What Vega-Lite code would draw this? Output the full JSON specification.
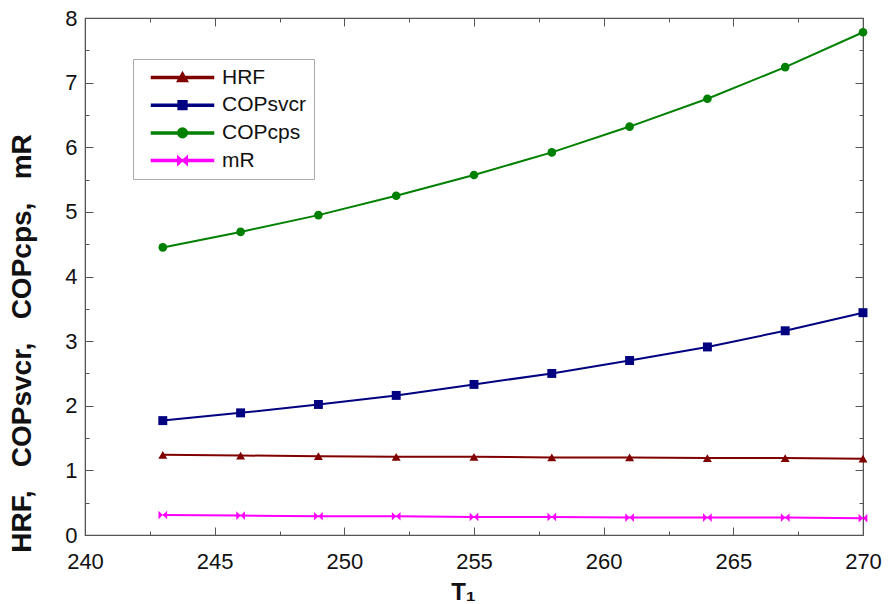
{
  "$schema": "https://vega.github.io/schema/vega-lite/v6.json",
  "width": 778,
  "height": 517,
  "autosize": {"type": "none"},
  "padding": {"left": 85, "top": 18, "right": 26, "bottom": 69},
  "background": "white",
  "config": {
    "view": {"stroke": "#555", "strokeWidth": 1.2},
    "font": "Liberation Sans",
    "axis": {"grid": false, "labelFont": "Liberation Sans", "titleFont": "Liberation Sans", "domainColor": "#555", "tickColor": "#555", "labelColor": "#111", "titleColor": "#111"}
  },
  "data": {
    "values": [
      {"T1": 243, "series": "HRF", "value": 1.24},
      {"T1": 246, "series": "HRF", "value": 1.23},
      {"T1": 249, "series": "HRF", "value": 1.22},
      {"T1": 252, "series": "HRF", "value": 1.21},
      {"T1": 255, "series": "HRF", "value": 1.21},
      {"T1": 258, "series": "HRF", "value": 1.20},
      {"T1": 261, "series": "HRF", "value": 1.20},
      {"T1": 264, "series": "HRF", "value": 1.19},
      {"T1": 267, "series": "HRF", "value": 1.19},
      {"T1": 270, "series": "HRF", "value": 1.18},
      {"T1": 243, "series": "COPsvcr", "value": 1.77},
      {"T1": 246, "series": "COPsvcr", "value": 1.89},
      {"T1": 249, "series": "COPsvcr", "value": 2.02},
      {"T1": 252, "series": "COPsvcr", "value": 2.16},
      {"T1": 255, "series": "COPsvcr", "value": 2.33},
      {"T1": 258, "series": "COPsvcr", "value": 2.50},
      {"T1": 261, "series": "COPsvcr", "value": 2.70},
      {"T1": 264, "series": "COPsvcr", "value": 2.91},
      {"T1": 267, "series": "COPsvcr", "value": 3.16},
      {"T1": 270, "series": "COPsvcr", "value": 3.44},
      {"T1": 243, "series": "COPcps", "value": 4.45},
      {"T1": 246, "series": "COPcps", "value": 4.69},
      {"T1": 249, "series": "COPcps", "value": 4.95},
      {"T1": 252, "series": "COPcps", "value": 5.25},
      {"T1": 255, "series": "COPcps", "value": 5.57},
      {"T1": 258, "series": "COPcps", "value": 5.92},
      {"T1": 261, "series": "COPcps", "value": 6.32},
      {"T1": 264, "series": "COPcps", "value": 6.75},
      {"T1": 267, "series": "COPcps", "value": 7.24},
      {"T1": 270, "series": "COPcps", "value": 7.78},
      {"T1": 243, "series": "mR", "value": 0.31},
      {"T1": 246, "series": "mR", "value": 0.30},
      {"T1": 249, "series": "mR", "value": 0.29},
      {"T1": 252, "series": "mR", "value": 0.29},
      {"T1": 255, "series": "mR", "value": 0.28},
      {"T1": 258, "series": "mR", "value": 0.28},
      {"T1": 261, "series": "mR", "value": 0.27},
      {"T1": 264, "series": "mR", "value": 0.27},
      {"T1": 267, "series": "mR", "value": 0.27},
      {"T1": 270, "series": "mR", "value": 0.26}
    ]
  },
  "layer": [
    {
      "mark": {"type": "point", "filled": true, "opacity": 0},
      "encoding": {
        "x": {
          "field": "T1", "type": "quantitative",
          "scale": {"domain": [240, 270], "nice": false, "zero": false},
          "axis": {
            "orient": "bottom",
            "values": [240, 242.5, 245, 247.5, 250, 252.5, 255, 257.5, 260, 262.5, 265, 267.5, 270],
            "labelExpr": "datum.value % 5 === 0 ? format(datum.value, 'd') : ''",
            "tickSize": {"condition": {"test": "datum.value % 5 === 0", "value": -8}, "value": -4},
            "labelPadding": 24,
            "labelFontSize": 22,
            "labelFlush": false,
            "labelOverlap": false,
            "title": "T₁",
            "titleFontSize": 24,
            "titleFontWeight": "bold",
            "titleX": 378,
            "titleY": 45,
            "titleBaseline": "top",
            "titleAlign": "center"
          }
        },
        "y": {
          "field": "value", "type": "quantitative",
          "scale": {"domain": [0, 8], "nice": false},
          "axis": {
            "orient": "left",
            "values": [0, 0.5, 1, 1.5, 2, 2.5, 3, 3.5, 4, 4.5, 5, 5.5, 6, 6.5, 7, 7.5, 8],
            "labelExpr": "datum.value % 1 === 0 ? format(datum.value, 'd') : ''",
            "tickSize": {"condition": {"test": "datum.value % 1 === 0", "value": -8}, "value": -4},
            "labelPadding": 16,
            "labelFontSize": 22,
            "labelFlush": false,
            "labelOverlap": false,
            "title": "HRF,\u00a0\u00a0\u00a0COPsvcr,\u00a0\u00a0\u00a0COPcps,\u00a0\u00a0\u00a0mR",
            "titleFontSize": 28,
            "titleFontWeight": "bold",
            "titleAngle": -90,
            "titleX": -63,
            "titleY": 325,
            "titleBaseline": "middle",
            "titleAlign": "center"
          }
        },
        "color": {
          "field": "series", "type": "nominal",
          "scale": {"domain": ["HRF", "COPsvcr", "COPcps", "mR"], "range": ["#800000", "#000080", "#008000", "#ff00ff"]},
          "legend": {
            "title": null,
            "orient": "none",
            "legendX": 48,
            "legendY": 41,
            "padding": 8,
            "strokeColor": "#aaa",
            "fillColor": "white",
            "symbolSize": 64,
            "symbolOpacity": 1,
            "symbolOffset": 31,
            "labelOffset": 29,
            "rowPadding": 5.7,
            "labelFont": "Liberation Sans",
            "labelFontSize": 21,
            "labelColor": "#111"
          }
        },
        "shape": {
          "field": "series", "type": "nominal",
          "scale": {
            "domain": ["HRF", "COPsvcr", "COPcps", "mR"],
            "range": [
              "M-7.75,-0.25H7.75V0.25H-7.75ZM0,-1.3L1.3,1L-1.3,1Z",
              "M-7.75,-0.25H7.75V0.25H-7.75ZM-1.1,-1.1H1.1V1.1H-1.1Z",
              "M-7.75,-0.25H7.75V0.25H-7.75ZM-1.2,0A1.2,1.2,0,1,1,1.2,0A1.2,1.2,0,1,1,-1.2,0Z",
              "M-7.75,-0.25H7.75V0.25H-7.75ZM-1.2,-1.1L0,0L-1.2,1.1ZM1.2,1.1L0,0L1.2,-1.1Z"
            ]
          },
          "legend": null
        }
      }
    },
    {
      "mark": {"type": "line", "strokeWidth": 2},
      "encoding": {
        "x": {"field": "T1", "type": "quantitative", "axis": null},
        "y": {"field": "value", "type": "quantitative", "axis": null},
        "color": {"field": "series", "type": "nominal", "legend": null}
      }
    },
    {
      "transform": [{"filter": "datum.series === 'HRF'"}],
      "mark": {"type": "point", "filled": true, "opacity": 1, "shape": "triangle-up", "size": 80},
      "encoding": {
        "x": {
          "field": "T1", "type": "quantitative",
          "axis": {
            "orient": "top",
            "values": [240, 242.5, 245, 247.5, 250, 252.5, 255, 257.5, 260, 262.5, 265, 267.5, 270],
            "labels": false,
            "tickSize": {"condition": {"test": "datum.value % 5 === 0", "value": -8}, "value": -4},
            "title": null
          }
        },
        "y": {
          "field": "value", "type": "quantitative",
          "axis": {
            "orient": "right",
            "values": [0, 0.5, 1, 1.5, 2, 2.5, 3, 3.5, 4, 4.5, 5, 5.5, 6, 6.5, 7, 7.5, 8],
            "labels": false,
            "tickSize": {"condition": {"test": "datum.value % 1 === 0", "value": -8}, "value": -4},
            "title": null
          }
        },
        "color": {"field": "series", "type": "nominal", "legend": null}
      }
    },
    {
      "transform": [{"filter": "datum.series === 'COPsvcr'"}],
      "mark": {"type": "point", "filled": true, "opacity": 1, "shape": "square", "size": 80},
      "encoding": {
        "x": {"field": "T1", "type": "quantitative", "axis": null},
        "y": {"field": "value", "type": "quantitative", "axis": null},
        "color": {"field": "series", "type": "nominal", "legend": null}
      }
    },
    {
      "transform": [{"filter": "datum.series === 'COPcps'"}],
      "mark": {"type": "point", "filled": true, "opacity": 1, "shape": "circle", "size": 75},
      "encoding": {
        "x": {"field": "T1", "type": "quantitative", "axis": null},
        "y": {"field": "value", "type": "quantitative", "axis": null},
        "color": {"field": "series", "type": "nominal", "legend": null}
      }
    },
    {
      "transform": [{"filter": "datum.series === 'mR'"}],
      "mark": {"type": "point", "filled": true, "opacity": 1, "shape": "M-1,-1L0,0L-1,1ZM1,-1L0,0L1,1Z", "size": 75},
      "encoding": {
        "x": {"field": "T1", "type": "quantitative", "axis": null},
        "y": {"field": "value", "type": "quantitative", "axis": null},
        "color": {"field": "series", "type": "nominal", "legend": null}
      }
    }
  ],
  "resolve": {"axis": {"x": "independent", "y": "independent"}}
}
